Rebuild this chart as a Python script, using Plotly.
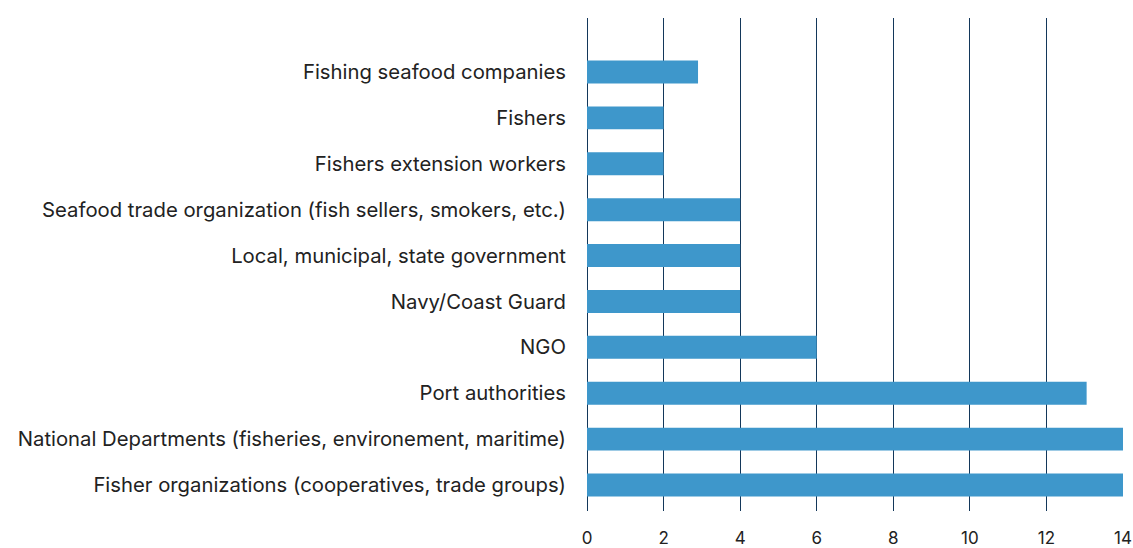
import plotly.graph_objects as go

categories = [
    "Fisher organizations (cooperatives, trade groups)",
    "National Departments (fisheries, environement, maritime)",
    "Port authorities",
    "NGO",
    "Navy/Coast Guard",
    "Local, municipal, state government",
    "Seafood trade organization (fish sellers, smokers, etc.)",
    "Fishers extension workers",
    "Fishers",
    "Fishing seafood companies",
]
values = [14, 14, 13.05, 6, 4, 4, 4, 2, 2, 2.9]
x_ticks = [0, 2, 4, 6, 8, 10, 12, 14]

fig = go.Figure(go.Bar(
    y=list(range(len(categories))), x=values, orientation="h",
    marker=dict(color="#3e97cb", line=dict(width=0)), width=0.5,
))
fig.update_layout(
    width=1133, height=548,
    margin=dict(l=587, r=10, t=18, b=37, autoexpand=False),
    paper_bgcolor="white", plot_bgcolor="white",
    font=dict(family="Inter", color="#222222"),
    showlegend=False,
    bargap=0.5,
)
fig.update_xaxes(
    range=[0, 14], tickvals=x_ticks, showgrid=True, gridcolor="#13375a", gridwidth=1,
    zeroline=True, zerolinecolor="#13375a", zerolinewidth=1, showline=False,
    tickfont=dict(size=17, family="Inter", color="#222222"), ticks="", ticklabelstandoff=15,
    layer="below traces", automargin=False,
)
fig.update_yaxes(
    range=[-0.567, 10.177], tickvals=list(range(len(categories))), ticktext=categories,
    showgrid=False, zeroline=False, showline=False, ticks="",
    tickfont=dict(size=20.3, family="Inter", color="#222222"), ticklabelstandoff=20,
    automargin=False,
)
fig.write_html("out.html")
